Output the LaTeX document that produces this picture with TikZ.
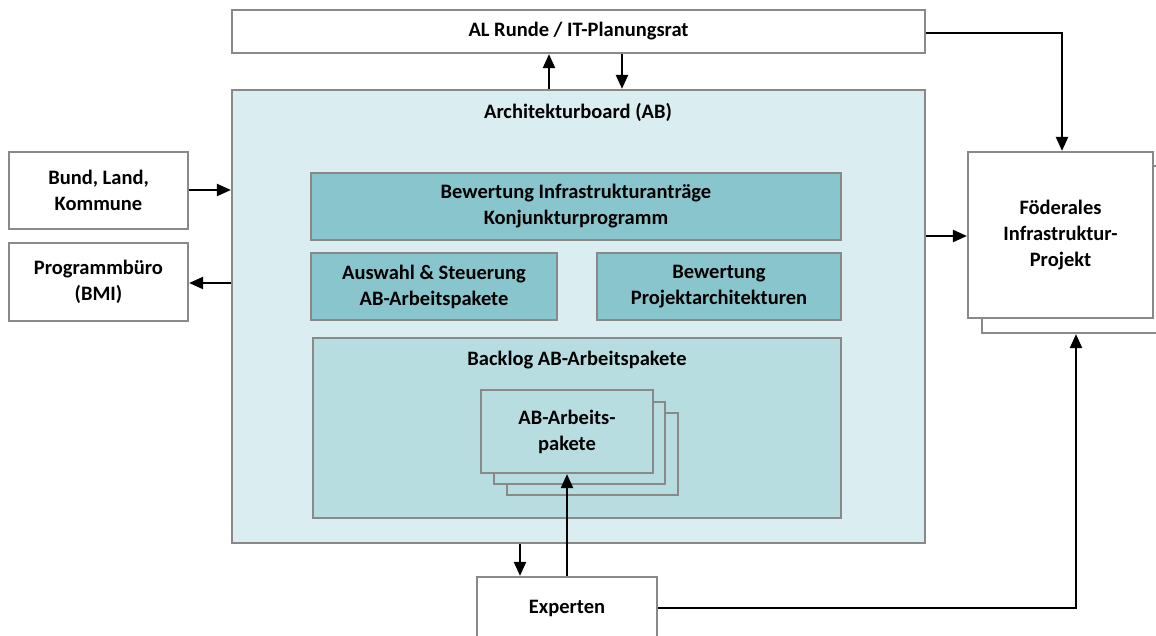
\documentclass[tikz,border=0pt]{standalone}
\usepackage{fontspec}
\setmainfont{Carlito}
\usetikzlibrary{arrows.meta}
\definecolor{bordergray}{HTML}{898989}
\definecolor{abfill}{HTML}{DAEDF0}
\definecolor{tealfill}{HTML}{88C5CC}
\definecolor{backfill}{HTML}{B7DDE1}
\tikzset{
  box/.style={draw=bordergray, line width=2.2pt, fill=white, inner sep=0pt, align=center,
    font=\fontsize{20.5}{26}\selectfont\bfseries},
  tealbox/.style={box, fill=tealfill},
  backbox/.style={box, fill=backfill},
  lbl/.style={inner sep=0pt, font=\fontsize{20.5}{26}\selectfont\bfseries},
  conn/.style={line width=2.2pt, -{Triangle[length=14pt,width=12pt]}},
}
\begin{document}
\begin{tikzpicture}[x=1pt,y=-1pt]
\useasboundingbox[fill=white] (0,0) rectangle (1156,636);
% top box
\node[box, minimum width=693pt, minimum height=43pt] (al) at (578.5,31.5) {AL Runde / IT-Planungsrat};
% Architekturboard
\node[box, fill=abfill, minimum width=693pt, minimum height=453pt] (ab) at (578.5,316.5) {};
\node[lbl] (abl) at (578,112) {Architekturboard (AB)};
% left boxes
\node[box, minimum width=179pt, minimum height=77pt] (bund) at (98.5,190.5) {Bund, Land,\\Kommune};
\node[box, minimum width=179pt, minimum height=78pt] (prog) at (98.5,282) {Programmbüro\\(BMI)};
% inner boxes
\node[tealbox, minimum width=530pt, minimum height=67pt] (bew) at (576,206.5) {Bewertung Infrastrukturanträge\\Konjunkturprogramm};
\node[tealbox, minimum width=246pt, minimum height=67pt] (aus) at (434,286.5) {Auswahl \& Steuerung\\AB-Arbeitspakete};
\node[tealbox, minimum width=244pt, minimum height=67pt] (proj) at (719,286.5) {Bewertung\\Projektarchitekturen};
\node[backbox, minimum width=528pt, minimum height=180pt] (backlog) at (577,428) {};
\node[lbl] (backl) at (577,360) {Backlog AB-Arbeitspakete};
% stacked work packages
\node[backbox, minimum width=171pt, minimum height=82pt] (wp3) at (592.5,454) {};
\node[backbox, minimum width=171pt, minimum height=82pt] (wp2) at (579.5,443) {};
\node[backbox, minimum width=172pt, minimum height=83pt] (wp) at (567,431.5) {AB-Arbeits-\\pakete};
% right stacked box
\node[box, minimum width=180pt, minimum height=167pt] (fed2) at (1072,249.5) {};
\node[box, minimum width=185pt, minimum height=166pt] (fed) at (1060.5,235) {Föderales\\Infrastruktur-\\Projekt};
% Experten
\node[box, minimum width=180pt, minimum height=80pt] (exp) at (567,617) {};
\node[lbl] (expl) at (567,608) {Experten};
% connectors
\draw[conn] (ab.north -| 549,0) -- (al.south -| 549,0);
\draw[conn] (al.south -| 622,0) -- (ab.north -| 622,0);
\draw[conn] (al.east |- 0,33) -| (fed.north -| 1062,0);
\draw[conn] (bund.east |- 0,190) -- (ab.west |- 0,190);
\draw[conn] (ab.west |- 0,283) -- (prog.east |- 0,283);
\draw[conn] (ab.east |- 0,236) -- (fed.west |- 0,236);
\draw[conn] (ab.south -| 520,0) -- (exp.north -| 520,0);
\draw[conn] (exp.north -| 567,0) -- (wp.south -| 567,0);
\draw[conn] (exp.east |- 0,608) -| (fed2.south -| 1076,0);
\end{tikzpicture}
\end{document}
